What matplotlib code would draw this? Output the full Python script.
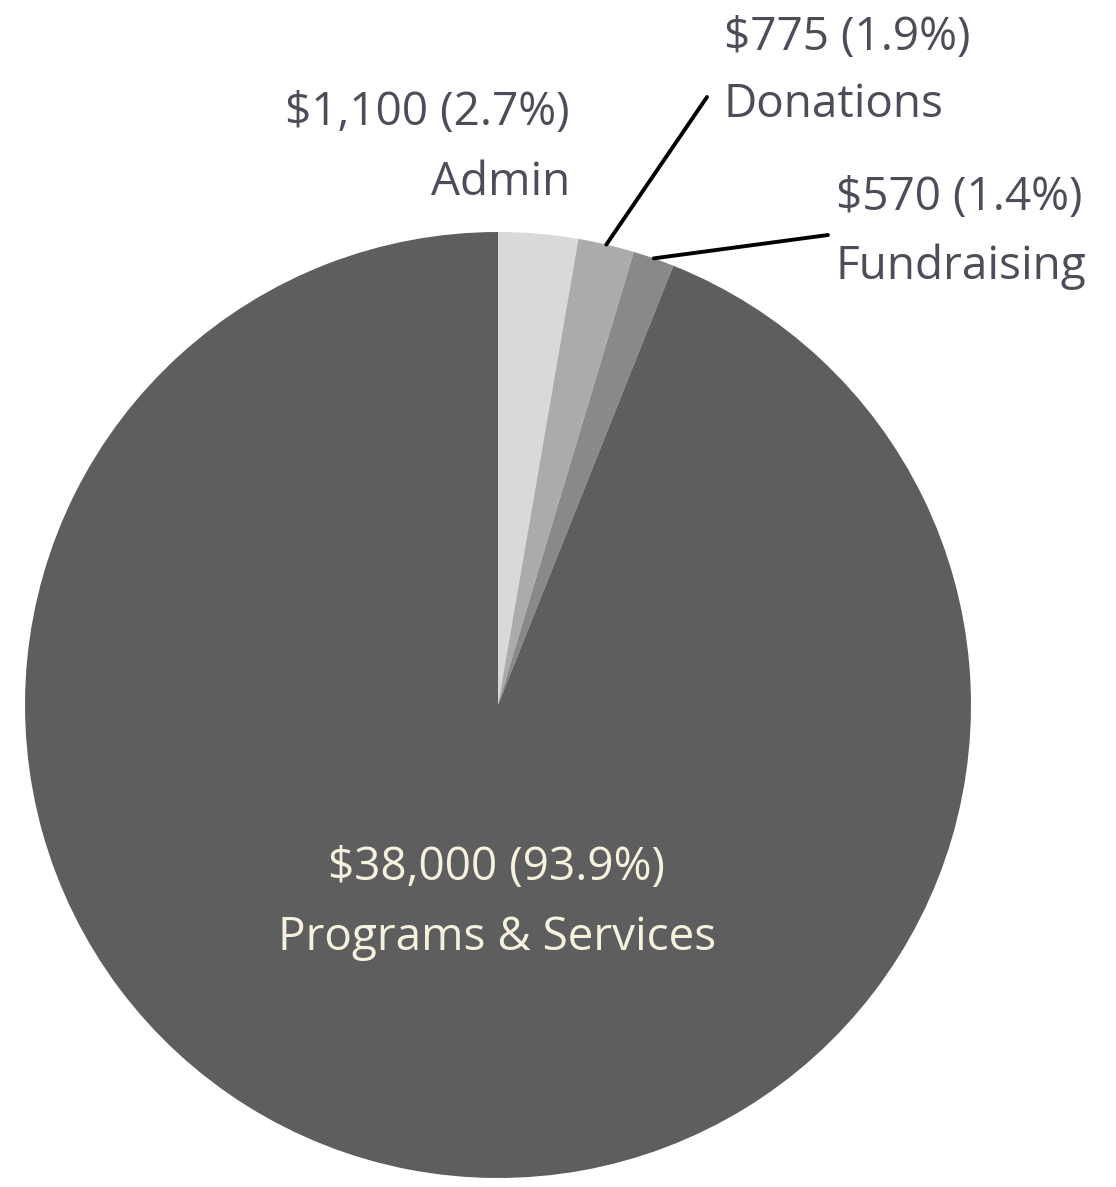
import matplotlib.pyplot as plt
import numpy as np

labels = ["Admin", "Donations", "Fundraising", "Programs & Services"]
values = [1100, 775, 570, 38000]
pct_labels = ["2.7%", "1.9%", "1.4%", "93.9%"]
colors = ["#d9d9d9", "#ababab", "#898989", "#5e5e5e"]

TEXT = "#4b4e58"
plt.rcParams["font.family"] = ["Open Sans", "DejaVu Sans"]

W, H = 1116, 1187
cx, cy, R = 498, 705, 473
fig = plt.figure(figsize=(W / 100, H / 100), dpi=100)
fig.patch.set_facecolor("white")
ax = fig.add_axes([(cx - R) / W, (H - cy - R) / H, 2 * R / W, 2 * R / H])

wedges, _ = ax.pie(values, colors=colors, startangle=90, counterclock=False,
                   radius=1, wedgeprops=dict(linewidth=0))
ax.set_xlim(-1, 1)
ax.set_ylim(-1, 1)
ax.set_aspect("equal")
ax.axis("off")

def px(x, y):
    # pixel position -> data coords
    return (x - cx) / R, (cy - y) / R

def mid_point(w):
    a = np.deg2rad((w.theta1 + w.theta2) / 2)
    return np.cos(a), np.sin(a)

fs = 33
texts = [f"${v:,} ({p})" for v, p in zip(values, pct_labels)]
line = dict(arrowstyle="-", color="black", lw=2.8, shrinkA=0, shrinkB=0)

# Admin (no leader line)
x, y = px(570, 113)
ax.text(x, y, texts[0], ha="right", va="center", fontsize=fs, color=TEXT)
x, y = px(570, 183)
ax.text(x, y, labels[0], ha="right", va="center", fontsize=fs, color=TEXT)

# Donations
ax.annotate("", xy=mid_point(wedges[1]), xytext=px(707, 97), arrowprops=line)
x, y = px(724, 38)
ax.text(x, y, texts[1], ha="left", va="center", fontsize=fs, color=TEXT)
x, y = px(724, 105)
ax.text(x, y, labels[1], ha="left", va="center", fontsize=fs, color=TEXT)

# Fundraising
ax.annotate("", xy=mid_point(wedges[2]), xytext=px(828, 235), arrowprops=line)
x, y = px(836, 198)
ax.text(x, y, texts[2], ha="left", va="center", fontsize=fs, color=TEXT)
x, y = px(836, 267)
ax.text(x, y, labels[2], ha="left", va="center", fontsize=fs, color=TEXT)

# Programs & Services (inside)
x, y = px(497, 868)
ax.text(x, y, texts[3], ha="center", va="center", fontsize=fs, color="#f7f2de")
x, y = px(497, 938)
ax.text(x, y, labels[3], ha="center", va="center", fontsize=fs, color="#f7f2de")

fig.savefig("out.png", dpi=100, facecolor="white")
